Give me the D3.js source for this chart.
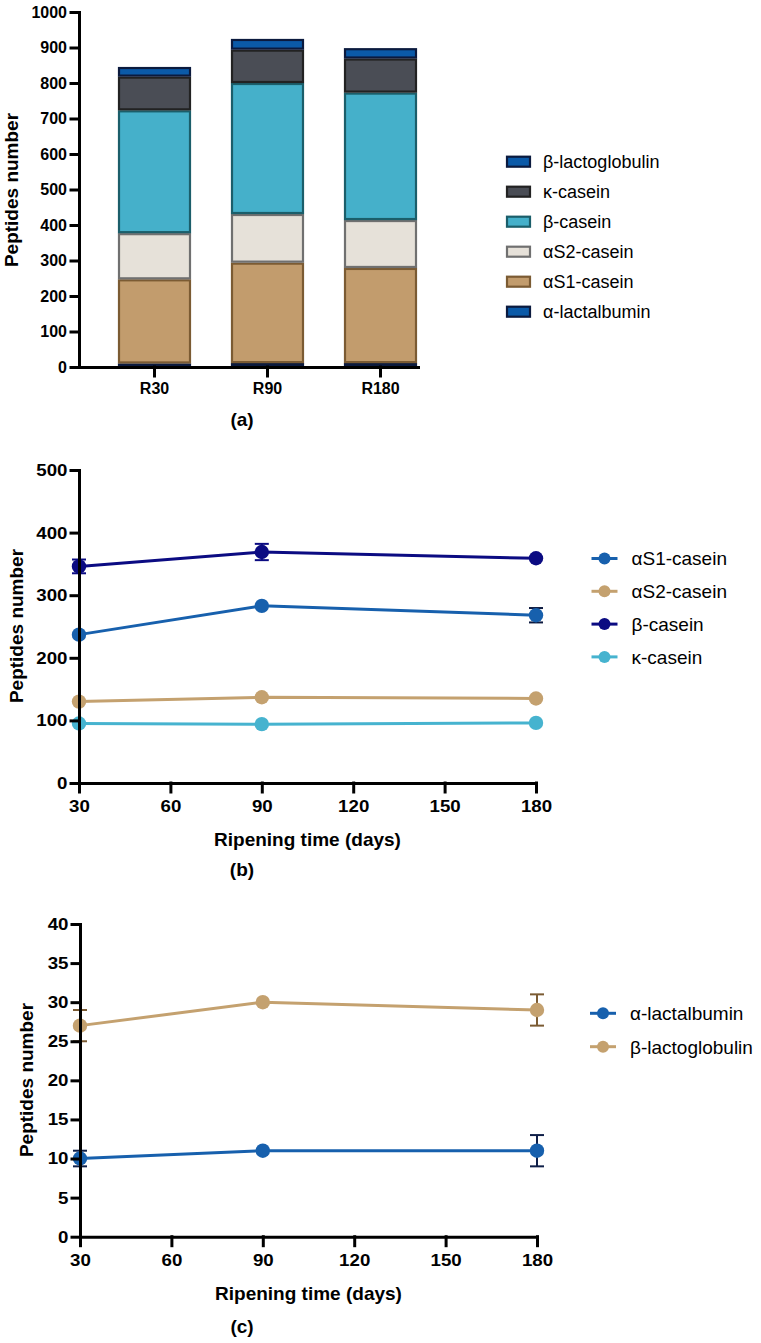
<!DOCTYPE html>
<html><head><meta charset="utf-8">
<script src="https://cdn.jsdelivr.net/npm/d3@7"></script>
<style>body{margin:0;background:#fff} text{font-family:"Liberation Sans",Arial,Helvetica,sans-serif}</style>
</head><body><svg id="c" width="761" height="1343"></svg>
<script>
// ---------- data ----------
const days = [30, 90, 180];
const samples = ["R30", "R90", "R180"];
const proteins = ["α-lactalbumin", "αS1-casein", "αS2-casein", "β-casein", "κ-casein", "β-lactoglobulin"];
const alphaLac = [10, 11, 11];
const alphaS1 = [237, 283, 268];
const alphaS2 = [130, 137, 135];
const betaCas = [346, 369, 359];
const kappaCas = [95, 94, 96];
const betaLg = [27, 30, 29];
const errAlphaLac = [1, 0, 2];
const errAlphaS1 = [0, 0, 11.5];
const errAlphaS2 = [0, 0, 0];
const errBetaCas = [11, 13, 0];
const errKappaCas = [0, 0, 0];
const errBetaLg = [2, 0, 2];
const yTicksA = [0, 100, 200, 300, 400, 500, 600, 700, 800, 900, 1000];
const yTicksB = [0, 100, 200, 300, 400, 500];
const yTicksC = [0, 5, 10, 15, 20, 25, 30, 35, 40];
const xTicksDays = [30, 60, 90, 120, 150, 180];
const yLabel = "Peptides number";
const xLabel = "Ripening time (days)";

// ---------- styles ----------
const barFill = {"α-lactalbumin":"#0b5aa8","αS1-casein":"#c29c6d","αS2-casein":"#e6e1d9","β-casein":"#45b0ca","κ-casein":"#4a4d55","β-lactoglobulin":"#0b5aa8"};
const barStroke = {"α-lactalbumin":"#0b1a3e","αS1-casein":"#7b5b33","αS2-casein":"#707070","β-casein":"#1b5e6a","κ-casein":"#222222","β-lactoglobulin":"#0b1a3e"};

const svg = d3.select("#c");
svg.append("rect").attr("width",761).attr("height",1343).attr("fill","#fff");

function styleAxis(g, size, stretch){
  g.selectAll("path,line").attr("stroke","#000").attr("stroke-width",3).attr("stroke-linecap","square");
  g.selectAll("text").attr("font-weight","bold").attr("fill","#000").attr("font-size",size);
  if (stretch) g.selectAll("text").attr("transform",`scale(${stretch},1)`);
}

// ---------- panel (a) ----------
const xA = d3.scaleBand().domain(samples).range([79,418]).paddingInner(0.354).paddingOuter(0.177).align(0.975);
const yA = d3.scaleLinear().domain([0,1000]).range([367,12]);
const rows = samples.map((s,i)=>({sample:s,"α-lactalbumin":alphaLac[i],"αS1-casein":alphaS1[i],"αS2-casein":alphaS2[i],"β-casein":betaCas[i],"κ-casein":kappaCas[i],"β-lactoglobulin":betaLg[i]}));
const stack = d3.stack().keys(proteins)(rows);
const gA = svg.append("g");
stack.forEach(layer=>{
  gA.selectAll(null).data(layer).join("rect")
    .attr("x", d=>xA(d.data.sample)+1)
    .attr("width", xA.bandwidth()-2)
    .attr("y", d=>yA(d[1])+1)
    .attr("height", d=>Math.max(0.5, yA(d[0])-yA(d[1])-2))
    .attr("fill", barFill[layer.key])
    .attr("stroke", barStroke[layer.key])
    .attr("stroke-width", 2.2);
});
const axA_y = svg.append("g").attr("transform","translate(79,0)")
  .call(d3.axisLeft(yA).tickValues(yTicksA).tickFormat(d3.format("d")).tickSize(8).tickPadding(4).tickSizeOuter(0));
styleAxis(axA_y,16,0);
const axA_x = svg.append("g").attr("transform","translate(0,367)")
  .call(d3.axisBottom(xA).tickSize(9).tickPadding(7).tickSizeOuter(0));
styleAxis(axA_x,16,0);
svg.append("text").attr("transform","translate(18,190) rotate(-90)").attr("text-anchor","middle")
  .attr("font-weight","bold").attr("font-size",19).text(yLabel);
svg.append("text").attr("x",242).attr("y",426).attr("text-anchor","middle")
  .attr("font-weight","bold").attr("font-size",19).text("(a)");
// legend (a)
const legA = proteins.slice().reverse();
const lgA = svg.append("g");
legA.forEach((p,i)=>{
  const yy = 161.7 + i*30;
  lgA.append("rect").attr("x",507).attr("y",yy-5).attr("width",23).attr("height",10)
    .attr("fill",barFill[p]).attr("stroke",barStroke[p]).attr("stroke-width",2.2);
  lgA.append("text").attr("x",543).attr("y",yy).attr("dy","0.36em").attr("font-size",18).text(p);
});

// ---------- line panel helper ----------
function linePanel(cfg){
  const x = d3.scaleLinear().domain([30,180]).range(cfg.xr);
  const y = d3.scaleLinear().domain(cfg.yd).range(cfg.yr);
  const g = svg.append("g");
  const line = d3.line().x((d,i)=>x(days[i])).y(d=>y(d));
  cfg.series.forEach(s=>{
    g.append("path").datum(s.values).attr("d",line).attr("fill","none")
      .attr("stroke",s.color).attr("stroke-width",3);
  });
  cfg.series.forEach(s=>{
    s.values.forEach((v,i)=>{
      const e = s.err[i], cx = x(days[i]);
      if (!e) return;
      const eg = g.append("g").attr("stroke",s.errColor).attr("stroke-width",2);
      eg.append("line").attr("x1",cx).attr("x2",cx).attr("y1",y(v-e)).attr("y2",y(v+e));
      eg.append("line").attr("x1",cx-7).attr("x2",cx+7).attr("y1",y(v-e)).attr("y2",y(v-e));
      eg.append("line").attr("x1",cx-7).attr("x2",cx+7).attr("y1",y(v+e)).attr("y2",y(v+e));
    });
    g.selectAll(null).data(s.values).join("circle")
      .attr("cx",(d,i)=>x(days[i])).attr("cy",d=>y(d)).attr("r",7.2).attr("fill",s.color);
  });
  const ay = svg.append("g").attr("transform",`translate(${cfg.xr[0]},0)`)
    .call(d3.axisLeft(y).tickValues(cfg.yTicks).tickSize(8).tickPadding(2.5).tickSizeOuter(0));
  styleAxis(ay,17,1.1);
  const ax = svg.append("g").attr("transform",`translate(0,${cfg.yr[0]})`)
    .call(d3.axisBottom(x).tickValues(xTicksDays).tickSize(9).tickPadding(8).tickSizeOuter(0));
  styleAxis(ax,17,1.1);
  svg.append("text").attr("x",(cfg.xr[0]+cfg.xr[1])/2).attr("y",cfg.yr[0]+63).attr("text-anchor","middle")
    .attr("font-weight","bold").attr("font-size",19).text(xLabel);
  svg.append("text").attr("transform",`translate(${cfg.ylx},${cfg.yly}) rotate(-90)`).attr("text-anchor","middle")
    .attr("font-weight","bold").attr("font-size",19).text(yLabel);
  svg.append("text").attr("x",242).attr("y",cfg.capY).attr("text-anchor","middle")
    .attr("font-weight","bold").attr("font-size",19).text(cfg.cap);
  cfg.series.forEach((s,i)=>{
    const yy = cfg.legY + i*cfg.legStep;
    svg.append("line").attr("x1",cfg.legX-13).attr("x2",cfg.legX+13).attr("y1",yy).attr("y2",yy)
      .attr("stroke",s.color).attr("stroke-width",3);
    svg.append("circle").attr("cx",cfg.legX).attr("cy",yy).attr("r",6).attr("fill",s.color);
    svg.append("text").attr("x",cfg.legX+27).attr("y",yy).attr("dy","0.36em").attr("font-size",19).text(s.name);
  });
}

// ---------- panel (b) ----------
linePanel({
  xr:[79,536], yd:[0,500], yr:[783,470], yTicks:yTicksB,
  ylx:23, yly:626, cap:"(b)", capY:876, legX:604.5, legY:558.5, legStep:32.8,
  series:[
    {name:"αS1-casein", values:alphaS1, err:errAlphaS1, color:"#1760ad", errColor:"#0d1a40"},
    {name:"αS2-casein", values:alphaS2, err:errAlphaS2, color:"#c4a16f", errColor:"#7b5b33"},
    {name:"β-casein", values:betaCas, err:errBetaCas, color:"#0b0b82", errColor:"#0b0b82"},
    {name:"κ-casein", values:kappaCas, err:errKappaCas, color:"#46b3cf", errColor:"#1b5e6a"}
  ]
});

// ---------- panel (c) ----------
linePanel({
  xr:[80,537], yd:[0,40], yr:[1236.7,924], yTicks:yTicksC,
  ylx:33, yly:1080, cap:"(c)", capY:1333, legX:603, legY:1013.3, legStep:33.4,
  series:[
    {name:"α-lactalbumin", values:alphaLac, err:errAlphaLac, color:"#1760ad", errColor:"#0f1f48"},
    {name:"β-lactoglobulin", values:betaLg, err:errBetaLg, color:"#c4a16f", errColor:"#7b5b33"}
  ]
});
</script></body></html>
